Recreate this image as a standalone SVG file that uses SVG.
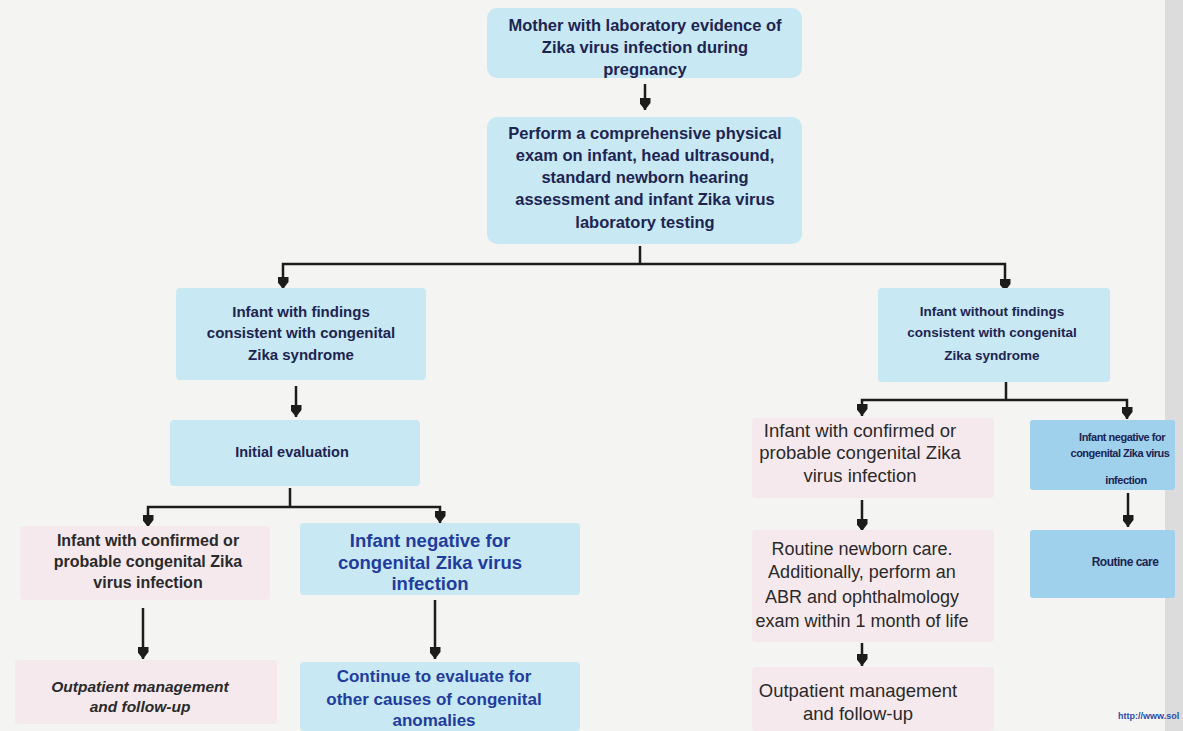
<svg xmlns="http://www.w3.org/2000/svg" width="1183" height="731" viewBox="0 0 1183 731">
<defs>
<marker id="ah" markerWidth="12" markerHeight="11" refX="12" refY="5.5" orient="auto" markerUnits="userSpaceOnUse" viewBox="0 0 12 11">
<path d="M0,0 L5,0 L12,5.5 L5,11 L0,11 Z" fill="#1c1c1c"/>
</marker>
<style>
.bl{fill:#c8e8f3;}
.bd{fill:#9fd1ec;}
.pk{fill:#f6e9ee;}
.t{font-family:"Liberation Sans",Arial,sans-serif;font-weight:bold;text-anchor:middle;fill:#1d2452;}
.tb{font-family:"Liberation Sans",Arial,sans-serif;font-weight:bold;text-anchor:middle;fill:#1f3c9e;}
.tk{font-family:"Liberation Sans",Arial,sans-serif;text-anchor:middle;fill:#2a2a2a;}
.c{stroke:#1c1c1c;stroke-width:2.5;fill:none;}
</style>
</defs>
<rect width="1183" height="731" fill="#f4f4f3"/>
<rect x="1165" y="0" width="18" height="731" fill="#dcdcdc"/>

<g id="connectors">
<line class="c" x1="645" y1="84" x2="645" y2="110" marker-end="url(#ah)"/>
<polyline class="c" points="640,246 640,264"/>
<polyline class="c" points="640,264 283,264 283,289" marker-end="url(#ah)"/>
<polyline class="c" points="640,264 1005,264 1005,291" marker-end="url(#ah)"/>
<line class="c" x1="296" y1="386" x2="296" y2="417" marker-end="url(#ah)"/>
<polyline class="c" points="290,488 290,507"/>
<polyline class="c" points="290,507 148,507 148,527" marker-end="url(#ah)"/>
<polyline class="c" points="290,507 440,507 440,523" marker-end="url(#ah)"/>
<line class="c" x1="143" y1="608" x2="143" y2="659" marker-end="url(#ah)"/>
<line class="c" x1="435" y1="600" x2="435" y2="659" marker-end="url(#ah)"/>
<polyline class="c" points="1006,382 1006,400"/>
<polyline class="c" points="1006,400 862,400 862,416" marker-end="url(#ah)"/>
<polyline class="c" points="1006,400 1127,400 1127,419" marker-end="url(#ah)"/>
<line class="c" x1="862" y1="500" x2="862" y2="531" marker-end="url(#ah)"/>
<line class="c" x1="862" y1="643" x2="862" y2="666" marker-end="url(#ah)"/>
<line class="c" x1="1128" y1="493" x2="1128" y2="527" marker-end="url(#ah)"/>
</g>

<g id="n1">
<rect class="bl" x="487" y="8" width="315" height="70" rx="10"/>
<text class="t" font-size="16.5"><tspan x="645" y="31">Mother with laboratory evidence of</tspan><tspan x="645" y="53">Zika virus infection during</tspan><tspan x="645" y="75">pregnancy</tspan></text>
</g>

<g id="n2">
<rect class="bl" x="487" y="117" width="315" height="127" rx="10"/>
<text class="t" font-size="16.5"><tspan x="645" y="139">Perform a comprehensive physical</tspan><tspan x="645" y="161">exam on infant, head ultrasound,</tspan><tspan x="645" y="183">standard newborn hearing</tspan><tspan x="645" y="205">assessment and infant Zika virus</tspan><tspan x="645" y="228">laboratory testing</tspan></text>
</g>

<g id="n3">
<rect class="bl" x="176" y="288" width="250" height="92" rx="4"/>
<text class="t" font-size="15"><tspan x="301" y="317">Infant with findings</tspan><tspan x="301" y="338">consistent with congenital</tspan><tspan x="301" y="360">Zika syndrome</tspan></text>
</g>

<g id="n4">
<rect class="bl" x="170" y="420" width="250" height="66" rx="4"/>
<text class="t" font-size="14.5"><tspan x="292" y="457">Initial evaluation</tspan></text>
</g>

<g id="n5">
<rect class="pk" x="20" y="526" width="250" height="74" rx="4"/>
<text class="tk" font-size="16" font-weight="bold" fill="#333"><tspan x="148" y="546">Infant with confirmed or</tspan><tspan x="148" y="567">probable congenital Zika</tspan><tspan x="148" y="588">virus infection</tspan></text>
</g>

<g id="n6">
<rect class="pk" x="15" y="660" width="262" height="64" rx="4"/>
<text class="tk" font-size="15.5" font-weight="bold" font-style="italic" fill="#333"><tspan x="140" y="692">Outpatient management</tspan><tspan x="140" y="712">and follow-up</tspan></text>
</g>

<g id="n7">
<rect class="bl" x="300" y="523" width="280" height="72" rx="4"/>
<text class="tb" font-size="18.5"><tspan x="430" y="547">Infant negative for</tspan><tspan x="430" y="569">congenital Zika virus</tspan><tspan x="430" y="590">infection</tspan></text>
</g>

<g id="n8">
<rect class="bl" x="300" y="662" width="280" height="69" rx="4"/>
<text class="tb" font-size="17" style="font-weight:600"><tspan x="434" y="682">Continue to evaluate for</tspan><tspan x="434" y="705">other causes of congenital</tspan><tspan x="434" y="726">anomalies</tspan></text>
</g>

<g id="n9">
<rect class="bl" x="878" y="288" width="232" height="94" rx="4"/>
<text class="t" font-size="13.5"><tspan x="992" y="316">Infant without findings</tspan><tspan x="992" y="337">consistent with congenital</tspan><tspan x="992" y="360">Zika syndrome</tspan></text>
</g>

<g id="n10">
<rect class="pk" x="752" y="418" width="242" height="80" rx="4"/>
<text class="tk" font-size="18.5"><tspan x="860" y="437">Infant with confirmed or</tspan><tspan x="860" y="459">probable congenital Zika</tspan><tspan x="860" y="482">virus infection</tspan></text>
</g>

<g id="n11">
<rect class="pk" x="752" y="530" width="242" height="112" rx="4"/>
<text class="tk" font-size="18"><tspan x="862" y="555">Routine newborn care.</tspan><tspan x="862" y="578">Additionally, perform an</tspan><tspan x="862" y="603">ABR and ophthalmology</tspan><tspan x="862" y="627">exam within 1 month of life</tspan></text>
</g>

<g id="n12">
<rect class="pk" x="752" y="667" width="242" height="64" rx="4"/>
<text class="tk" font-size="18.5"><tspan x="858" y="697">Outpatient management</tspan><tspan x="858" y="720">and follow-up</tspan></text>
</g>

<g id="n13">
<rect class="bd" x="1030" y="420" width="145" height="70" rx="3"/>
<text class="t" font-size="11" style="letter-spacing:-0.5px"><tspan x="1122" y="441">Infant negative for</tspan><tspan x="1120" y="457">congenital Zika virus</tspan><tspan x="1126" y="484">infection</tspan></text>
</g>

<g id="n14">
<rect class="bd" x="1030" y="530" width="145" height="68" rx="3"/>
<text class="t" font-size="12" style="letter-spacing:-0.5px"><tspan x="1125" y="566">Routine care</tspan></text>
</g>

<text x="1118" y="719" font-family="Liberation Sans,Arial,sans-serif" font-size="9" font-weight="bold" fill="#2a4db0">http://www.sol</text>
</svg>
